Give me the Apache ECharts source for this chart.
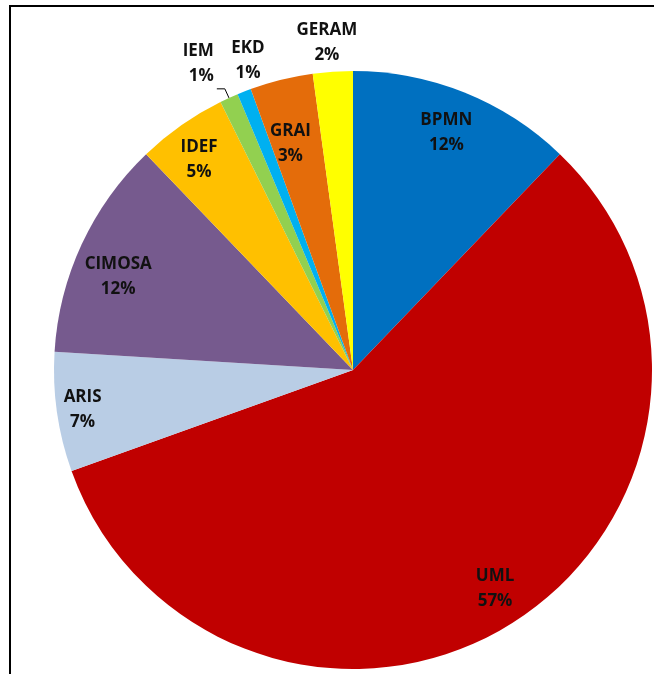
<!DOCTYPE html>
<html>
<head>
<meta charset="utf-8">
<script src="https://cdn.jsdelivr.net/npm/echarts@6/dist/echarts.min.js"></script>
<style>
    html, body { margin: 0; padding: 0; background: #fff; }
    #chart { position: absolute; left: 0; top: 0; width: 654px; height: 674px; }
    #frame { position: absolute; left: 9px; top: 5px; width: 700px; height: 700px;
             border: 2px solid #000; pointer-events: none; }
</style>
</head>
<body>
<div id="chart"></div>
<div id="frame"></div>
<script>
    // slices, clockwise from 12 o'clock (share of total)
    const categories = ['BPMN', 'UML', 'ARIS', 'CIMOSA', 'IDEF', 'IEM', 'EKD', 'GRAI', 'GERAM'];
    const shares = [12.15, 57.3, 6.45, 11.85, 4.85, 1.0, 0.75, 3.4, 2.15];
    const colors = ['#0070C0', '#C00000', '#B9CDE5', '#765A8E', '#FFC000', '#92D050', '#00B0F0', '#E46C0A', '#FFFF00'];
    const outsideNames = ['EKD', 'GERAM'];   // labels above the pie, no line
    const leaderNames = ['IEM'];             // label with a leader line

    // small label nudges (excel "best fit" puts a few labels off the common radius)
    let labelNudge = {
        BPMN: [-4, 5],
        ARIS: [-12, 3],
        CIMOSA: [2, 16],
        IDEF: [-4, 3],
        GRAI: [0, 27],
        EKD: [14, -5],
        GERAM: [-4, -1]
    };

    let center = [353, 370];
    let R = 299;
    let labelFont = {
        fontFamily: 'Open Sans',
        fontWeight: 'bold',
        fontSize: 17,
        lineHeight: 25,
        color: '#111'
    };

    let pieData = categories.map(function (name, i) {
        let item = { name: name, value: shares[i], itemStyle: { color: colors[i] } };
        if (leaderNames.indexOf(name) >= 0) {
            item.label = Object.assign({
                show: true,
                position: 'outside',
                formatter: '{b}\n{d}%\n\u00a0\n\u00a0',
                distanceToLabelLine: 3
            }, labelFont);
            item.labelLine = {
                show: true,
                length: 10,
                length2: 8,
                smooth: false,
                lineStyle: { color: '#000', width: 1 }
            };
        }
        return item;
    });

    function ghostItem(name, i, show) {
        return {
            name: name,
            value: shares[i],
            label: { show: show, offset: labelNudge[name] || [0, 0] }
        };
    }

    let innerData = categories.map(function (name, i) {
        return ghostItem(name, i, outsideNames.indexOf(name) < 0 && leaderNames.indexOf(name) < 0);
    });

    let outerData = categories.map(function (name, i) {
        return ghostItem(name, i, outsideNames.indexOf(name) >= 0);
    });

    let ghost = {
        type: 'pie',
        center: center,
        startAngle: 90,
        percentPrecision: 0,
        silent: true,
        animation: false,
        avoidLabelOverlap: false,
        itemStyle: { color: 'rgba(0,0,0,0)' },
        emphasis: { disabled: true },
        labelLine: { show: false },
        labelLayout: { hideOverlap: false }
    };

    let option = {
        animation: false,
        series: [
            {
                type: 'pie',
                center: center,
                radius: [0, R],
                startAngle: 90,
                percentPrecision: 0,
                silent: true,
                emphasis: { disabled: true },
                label: { show: false },
                data: pieData
            },
            Object.assign({}, ghost, {
                radius: [150, 366],
                label: Object.assign({ position: 'inside', formatter: '{b}\n{d}%' }, labelFont),
                data: innerData
            }),
            Object.assign({}, ghost, {
                radius: [290, 358],
                label: Object.assign({ position: 'inside', formatter: '{b}\n{d}%' }, labelFont),
                data: outerData
            })
        ]
    };

    let myChart = echarts.init(document.getElementById('chart'));
    myChart.setOption(option);
</script>
</body>
</html>
